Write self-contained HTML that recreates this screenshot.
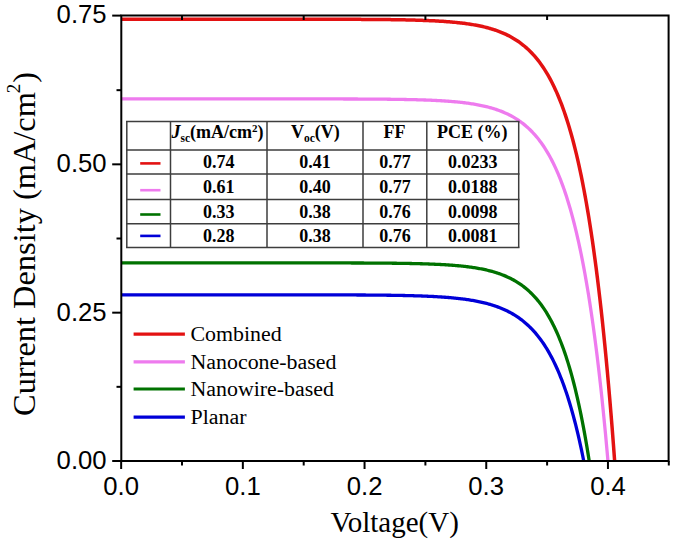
<!DOCTYPE html>
<html><head><meta charset="utf-8"><style>
html,body{margin:0;padding:0;background:#fff;}
body{width:675px;height:543px;overflow:hidden;}
svg{display:block;}
</style></head><body>
<svg width="675" height="543" viewBox="0 0 675 543">
<rect width="675" height="543" fill="#fff"/>
<defs><clipPath id="c"><rect x="121.2" y="15.5" width="547.5" height="445.5"/></clipPath></defs>
<g clip-path="url(#c)" fill="none" stroke-linejoin="round">
<path d="M121.15,19.21 L122.38,19.21 L123.62,19.21 L124.85,19.21 L126.08,19.21 L127.32,19.21 L128.55,19.21 L129.79,19.21 L131.02,19.21 L132.25,19.21 L133.49,19.21 L134.72,19.21 L135.95,19.21 L137.19,19.21 L138.42,19.21 L139.66,19.21 L140.89,19.21 L142.12,19.21 L143.36,19.21 L144.59,19.21 L145.82,19.21 L147.06,19.21 L148.29,19.21 L149.53,19.21 L150.76,19.21 L151.99,19.21 L153.23,19.21 L154.46,19.21 L155.69,19.21 L156.93,19.21 L158.16,19.21 L159.40,19.21 L160.63,19.21 L161.86,19.21 L163.10,19.21 L164.33,19.21 L165.56,19.21 L166.80,19.21 L168.03,19.21 L169.27,19.21 L170.50,19.21 L171.73,19.21 L172.97,19.21 L174.20,19.21 L175.43,19.21 L176.67,19.21 L177.90,19.21 L179.14,19.21 L180.37,19.21 L181.60,19.21 L182.84,19.21 L184.07,19.21 L185.30,19.21 L186.54,19.21 L187.77,19.21 L189.01,19.21 L190.24,19.21 L191.47,19.21 L192.71,19.21 L193.94,19.21 L195.17,19.21 L196.41,19.21 L197.64,19.21 L198.88,19.21 L200.11,19.21 L201.34,19.21 L202.58,19.21 L203.81,19.21 L205.04,19.21 L206.28,19.21 L207.51,19.21 L208.75,19.21 L209.98,19.21 L211.21,19.21 L212.45,19.21 L213.68,19.21 L214.91,19.21 L216.15,19.21 L217.38,19.21 L218.61,19.21 L219.85,19.21 L221.08,19.21 L222.32,19.21 L223.55,19.21 L224.78,19.21 L226.02,19.21 L227.25,19.21 L228.48,19.21 L229.72,19.21 L230.95,19.21 L232.19,19.21 L233.42,19.21 L234.65,19.21 L235.89,19.21 L237.12,19.21 L238.35,19.21 L239.59,19.21 L240.82,19.21 L242.06,19.21 L243.29,19.21 L244.52,19.21 L245.76,19.21 L246.99,19.21 L248.22,19.21 L249.46,19.21 L250.69,19.21 L251.93,19.21 L253.16,19.21 L254.39,19.21 L255.63,19.21 L256.86,19.21 L258.09,19.21 L259.33,19.21 L260.56,19.21 L261.80,19.21 L263.03,19.21 L264.26,19.21 L265.50,19.22 L266.73,19.22 L267.96,19.22 L269.20,19.22 L270.43,19.22 L271.67,19.22 L272.90,19.22 L274.13,19.22 L275.37,19.22 L276.60,19.22 L277.83,19.22 L279.07,19.22 L280.30,19.22 L281.54,19.22 L282.77,19.22 L284.00,19.22 L285.24,19.22 L286.47,19.22 L287.70,19.22 L288.94,19.22 L290.17,19.23 L291.41,19.23 L292.64,19.23 L293.87,19.23 L295.11,19.23 L296.34,19.23 L297.57,19.23 L298.81,19.23 L300.04,19.23 L301.28,19.23 L302.51,19.23 L303.74,19.24 L304.98,19.24 L306.21,19.24 L307.44,19.24 L308.68,19.24 L309.91,19.24 L311.14,19.24 L312.38,19.24 L313.61,19.25 L314.85,19.25 L316.08,19.25 L317.31,19.25 L318.55,19.25 L319.78,19.25 L321.01,19.26 L322.25,19.26 L323.48,19.26 L324.72,19.26 L325.95,19.26 L327.18,19.27 L328.42,19.27 L329.65,19.27 L330.88,19.27 L332.12,19.28 L333.35,19.28 L334.59,19.28 L335.82,19.28 L337.05,19.29 L338.29,19.29 L339.52,19.29 L340.75,19.30 L341.99,19.30 L343.22,19.30 L344.46,19.31 L345.69,19.31 L346.92,19.32 L348.16,19.32 L349.39,19.32 L350.62,19.33 L351.86,19.33 L353.09,19.34 L354.33,19.34 L355.56,19.35 L356.79,19.36 L358.03,19.36 L359.26,19.37 L360.49,19.37 L361.73,19.38 L362.96,19.39 L364.20,19.39 L365.43,19.40 L366.66,19.41 L367.90,19.42 L369.13,19.42 L370.36,19.43 L371.60,19.44 L372.83,19.45 L374.07,19.46 L375.30,19.47 L376.53,19.48 L377.77,19.49 L379.00,19.50 L380.23,19.51 L381.47,19.53 L382.70,19.54 L383.94,19.55 L385.17,19.57 L386.40,19.58 L387.64,19.59 L388.87,19.61 L390.10,19.62 L391.34,19.64 L392.57,19.66 L393.81,19.68 L395.04,19.69 L396.27,19.71 L397.51,19.73 L398.74,19.75 L399.97,19.77 L401.21,19.80 L402.44,19.82 L403.68,19.84 L404.91,19.87 L406.14,19.89 L407.38,19.92 L408.61,19.95 L409.84,19.98 L411.08,20.01 L412.31,20.04 L413.54,20.07 L414.78,20.11 L416.01,20.14 L417.25,20.18 L418.48,20.21 L419.71,20.25 L420.95,20.29 L422.18,20.34 L423.41,20.38 L424.65,20.43 L425.88,20.47 L427.12,20.52 L428.35,20.58 L429.58,20.63 L430.82,20.68 L432.05,20.74 L433.28,20.80 L434.52,20.86 L435.75,20.93 L436.99,21.00 L438.22,21.07 L439.45,21.14 L440.69,21.21 L441.92,21.29 L443.15,21.37 L444.39,21.46 L445.62,21.55 L446.86,21.64 L448.09,21.73 L449.32,21.83 L450.56,21.93 L451.79,22.04 L453.02,22.15 L454.26,22.26 L455.49,22.38 L456.73,22.51 L457.96,22.64 L459.19,22.77 L460.43,22.91 L461.66,23.05 L462.89,23.20 L464.13,23.36 L465.36,23.52 L466.60,23.69 L467.83,23.86 L469.06,24.05 L470.30,24.23 L471.53,24.43 L472.76,24.63 L474.00,24.85 L475.23,25.07 L476.47,25.29 L477.70,25.53 L478.93,25.78 L480.17,26.03 L481.40,26.30 L482.63,26.58 L483.87,26.87 L485.10,27.16 L486.34,27.47 L487.57,27.80 L488.80,28.13 L490.04,28.48 L491.27,28.84 L492.50,29.22 L493.74,29.61 L494.97,30.01 L496.21,30.43 L497.44,30.87 L498.67,31.33 L499.91,31.80 L501.14,32.29 L502.37,32.80 L503.61,33.33 L504.84,33.88 L506.07,34.45 L507.31,35.05 L508.54,35.67 L509.78,36.31 L511.01,36.98 L512.24,37.67 L513.48,38.39 L514.71,39.14 L515.94,39.91 L517.18,40.72 L518.41,41.56 L519.65,42.43 L520.88,43.34 L522.11,44.28 L523.35,45.26 L524.58,46.27 L525.81,47.33 L527.05,48.42 L528.28,49.56 L529.52,50.75 L530.75,51.98 L531.98,53.25 L533.22,54.58 L534.45,55.96 L535.68,57.40 L536.92,58.88 L538.15,60.43 L539.39,62.04 L540.62,63.71 L541.85,65.44 L543.09,67.25 L544.32,69.12 L545.55,71.07 L546.79,73.09 L548.02,75.19 L549.26,77.37 L550.49,79.64 L551.72,82.00 L552.96,84.45 L554.19,86.99 L555.42,89.64 L556.66,92.38 L557.89,95.24 L559.13,98.20 L560.36,101.28 L561.59,104.48 L562.83,107.81 L564.06,111.26 L565.29,114.85 L566.53,118.58 L567.76,122.46 L569.00,126.48 L570.23,130.67 L571.46,135.01 L572.70,139.53 L573.93,144.22 L575.16,149.10 L576.40,154.16 L577.63,159.42 L578.87,164.89 L580.10,170.57 L581.33,176.48 L582.57,182.61 L583.80,188.98 L585.03,195.60 L586.27,202.48 L587.50,209.63 L588.74,217.05 L589.97,224.77 L591.20,232.78 L592.44,241.11 L593.67,249.77 L594.90,258.76 L596.14,268.10 L597.37,277.80 L598.60,287.89 L599.84,298.37 L601.07,309.25 L602.31,320.56 L603.54,332.32 L604.77,344.53 L606.01,357.21 L607.24,370.39 L608.47,384.09 L609.71,398.32 L610.94,413.10 L612.18,428.46 L613.41,444.42 L614.64,461.00 L615.86,477.99 L617.08,495.63 L618.29,513.96 L619.51,532.98 L620.73,552.74" stroke="#e31212" stroke-width="3.50"/>
<path d="M121.15,98.89 L122.37,98.89 L123.58,98.89 L124.80,98.89 L126.02,98.89 L127.23,98.89 L128.45,98.89 L129.67,98.89 L130.89,98.89 L132.10,98.89 L133.32,98.89 L134.54,98.89 L135.75,98.89 L136.97,98.89 L138.19,98.89 L139.41,98.89 L140.62,98.89 L141.84,98.89 L143.06,98.89 L144.27,98.89 L145.49,98.89 L146.71,98.89 L147.92,98.89 L149.14,98.89 L150.36,98.89 L151.58,98.89 L152.79,98.89 L154.01,98.89 L155.23,98.89 L156.44,98.89 L157.66,98.89 L158.88,98.89 L160.09,98.89 L161.31,98.89 L162.53,98.89 L163.75,98.89 L164.96,98.89 L166.18,98.89 L167.40,98.89 L168.61,98.89 L169.83,98.89 L171.05,98.89 L172.26,98.89 L173.48,98.89 L174.70,98.89 L175.92,98.89 L177.13,98.89 L178.35,98.89 L179.57,98.89 L180.78,98.89 L182.00,98.89 L183.22,98.89 L184.43,98.89 L185.65,98.89 L186.87,98.89 L188.09,98.89 L189.30,98.89 L190.52,98.89 L191.74,98.89 L192.95,98.89 L194.17,98.89 L195.39,98.89 L196.60,98.89 L197.82,98.89 L199.04,98.89 L200.25,98.89 L201.47,98.89 L202.69,98.89 L203.91,98.89 L205.12,98.89 L206.34,98.89 L207.56,98.89 L208.77,98.89 L209.99,98.89 L211.21,98.89 L212.43,98.89 L213.64,98.89 L214.86,98.89 L216.08,98.89 L217.29,98.89 L218.51,98.89 L219.73,98.89 L220.94,98.89 L222.16,98.89 L223.38,98.89 L224.60,98.89 L225.81,98.89 L227.03,98.89 L228.25,98.89 L229.46,98.89 L230.68,98.89 L231.90,98.89 L233.11,98.89 L234.33,98.89 L235.55,98.89 L236.76,98.89 L237.98,98.89 L239.20,98.89 L240.42,98.89 L241.63,98.89 L242.85,98.89 L244.07,98.89 L245.28,98.89 L246.50,98.89 L247.72,98.89 L248.94,98.89 L250.15,98.90 L251.37,98.90 L252.59,98.90 L253.80,98.90 L255.02,98.90 L256.24,98.90 L257.45,98.90 L258.67,98.90 L259.89,98.90 L261.11,98.90 L262.32,98.90 L263.54,98.90 L264.76,98.90 L265.97,98.90 L267.19,98.90 L268.41,98.90 L269.62,98.90 L270.84,98.90 L272.06,98.90 L273.27,98.90 L274.49,98.90 L275.71,98.90 L276.93,98.90 L278.14,98.90 L279.36,98.90 L280.58,98.90 L281.79,98.90 L283.01,98.90 L284.23,98.90 L285.45,98.90 L286.66,98.90 L287.88,98.91 L289.10,98.91 L290.31,98.91 L291.53,98.91 L292.75,98.91 L293.96,98.91 L295.18,98.91 L296.40,98.91 L297.62,98.91 L298.83,98.91 L300.05,98.91 L301.27,98.91 L302.48,98.91 L303.70,98.91 L304.92,98.92 L306.13,98.92 L307.35,98.92 L308.57,98.92 L309.78,98.92 L311.00,98.92 L312.22,98.92 L313.44,98.92 L314.65,98.92 L315.87,98.93 L317.09,98.93 L318.30,98.93 L319.52,98.93 L320.74,98.93 L321.96,98.93 L323.17,98.94 L324.39,98.94 L325.61,98.94 L326.82,98.94 L328.04,98.94 L329.26,98.94 L330.47,98.95 L331.69,98.95 L332.91,98.95 L334.12,98.95 L335.34,98.96 L336.56,98.96 L337.78,98.96 L338.99,98.96 L340.21,98.97 L341.43,98.97 L342.64,98.97 L343.86,98.98 L345.08,98.98 L346.30,98.98 L347.51,98.99 L348.73,98.99 L349.95,98.99 L351.16,99.00 L352.38,99.00 L353.60,99.01 L354.81,99.01 L356.03,99.02 L357.25,99.02 L358.47,99.03 L359.68,99.03 L360.90,99.04 L362.12,99.04 L363.33,99.05 L364.55,99.06 L365.77,99.06 L366.98,99.07 L368.20,99.08 L369.42,99.08 L370.63,99.09 L371.85,99.10 L373.07,99.11 L374.29,99.12 L375.50,99.12 L376.72,99.13 L377.94,99.14 L379.15,99.15 L380.37,99.16 L381.59,99.17 L382.80,99.18 L384.02,99.20 L385.24,99.21 L386.46,99.22 L387.67,99.23 L388.89,99.25 L390.11,99.26 L391.32,99.28 L392.54,99.29 L393.76,99.31 L394.98,99.32 L396.19,99.34 L397.41,99.36 L398.63,99.38 L399.84,99.39 L401.06,99.41 L402.28,99.44 L403.49,99.46 L404.71,99.48 L405.93,99.50 L407.14,99.53 L408.36,99.55 L409.58,99.58 L410.80,99.60 L412.01,99.63 L413.23,99.66 L414.45,99.69 L415.66,99.72 L416.88,99.75 L418.10,99.79 L419.32,99.82 L420.53,99.86 L421.75,99.90 L422.97,99.94 L424.18,99.98 L425.40,100.02 L426.62,100.07 L427.83,100.11 L429.05,100.16 L430.27,100.21 L431.49,100.26 L432.70,100.31 L433.92,100.37 L435.14,100.43 L436.35,100.49 L437.57,100.55 L438.79,100.62 L440.00,100.68 L441.22,100.75 L442.44,100.83 L443.65,100.90 L444.87,100.98 L446.09,101.06 L447.31,101.15 L448.52,101.24 L449.74,101.33 L450.96,101.43 L452.17,101.53 L453.39,101.63 L454.61,101.74 L455.83,101.85 L457.04,101.96 L458.26,102.08 L459.48,102.21 L460.69,102.34 L461.91,102.47 L463.13,102.62 L464.34,102.76 L465.56,102.91 L466.78,103.07 L468.00,103.23 L469.21,103.41 L470.43,103.58 L471.65,103.77 L472.86,103.96 L474.08,104.16 L475.30,104.36 L476.51,104.58 L477.73,104.80 L478.95,105.03 L480.16,105.27 L481.38,105.52 L482.60,105.78 L483.82,106.05 L485.03,106.33 L486.25,106.63 L487.47,106.93 L488.68,107.24 L489.90,107.57 L491.12,107.91 L492.34,108.27 L493.55,108.63 L494.77,109.02 L495.99,109.41 L497.20,109.83 L498.42,110.25 L499.64,110.70 L500.85,111.16 L502.07,111.64 L503.29,112.14 L504.50,112.66 L505.72,113.20 L506.94,113.76 L508.16,114.35 L509.37,114.95 L510.59,115.58 L511.81,116.24 L513.02,116.92 L514.24,117.63 L515.46,118.36 L516.68,119.12 L517.89,119.92 L519.11,120.74 L520.33,121.60 L521.54,122.49 L522.76,123.41 L523.98,124.38 L525.19,125.38 L526.41,126.41 L527.63,127.49 L528.85,128.61 L530.06,129.78 L531.28,130.99 L532.50,132.25 L533.71,133.56 L534.93,134.92 L536.15,136.33 L537.36,137.80 L538.58,139.32 L539.80,140.91 L541.01,142.56 L542.23,144.27 L543.45,146.05 L544.67,147.90 L545.88,149.82 L547.10,151.82 L548.32,153.89 L549.53,156.05 L550.75,158.29 L551.97,160.62 L553.18,163.04 L554.40,165.55 L555.62,168.17 L556.84,170.88 L558.05,173.71 L559.27,176.64 L560.49,179.69 L561.70,182.86 L562.92,186.15 L564.14,189.57 L565.36,193.13 L566.57,196.82 L567.79,200.66 L569.01,204.65 L570.22,208.80 L571.44,213.11 L572.66,217.59 L573.87,222.24 L575.09,227.08 L576.31,232.10 L577.52,237.33 L578.74,242.75 L579.96,248.40 L581.18,254.26 L582.39,260.35 L583.61,266.68 L584.83,273.26 L586.04,280.10 L587.26,287.20 L588.48,294.59 L589.70,302.26 L590.91,310.23 L592.13,318.52 L593.35,327.13 L594.56,336.08 L595.78,345.38 L597.00,355.05 L598.21,365.09 L599.43,375.53 L600.65,386.38 L601.87,397.65 L603.08,409.36 L604.30,421.54 L605.52,434.19 L606.73,447.34 L607.95,461.00 L609.17,475.20 L610.38,489.95 L611.60,505.29 L612.82,521.22 L614.04,537.78" stroke="#ee7bee" stroke-width="3.30"/>
<path d="M121.15,262.89 L122.32,262.89 L123.49,262.89 L124.66,262.89 L125.83,262.89 L127.00,262.89 L128.17,262.89 L129.34,262.89 L130.51,262.89 L131.68,262.89 L132.85,262.89 L134.02,262.89 L135.19,262.89 L136.36,262.89 L137.53,262.89 L138.70,262.89 L139.87,262.89 L141.04,262.89 L142.21,262.89 L143.38,262.89 L144.55,262.89 L145.72,262.89 L146.89,262.89 L148.06,262.89 L149.23,262.89 L150.40,262.89 L151.57,262.89 L152.74,262.89 L153.91,262.89 L155.08,262.89 L156.25,262.89 L157.42,262.89 L158.59,262.89 L159.76,262.89 L160.93,262.89 L162.11,262.89 L163.28,262.89 L164.45,262.89 L165.62,262.89 L166.79,262.89 L167.96,262.89 L169.13,262.89 L170.30,262.89 L171.47,262.89 L172.64,262.89 L173.81,262.89 L174.98,262.89 L176.15,262.89 L177.32,262.89 L178.49,262.89 L179.66,262.89 L180.83,262.89 L182.00,262.89 L183.17,262.89 L184.34,262.89 L185.51,262.89 L186.68,262.89 L187.85,262.89 L189.02,262.89 L190.19,262.89 L191.36,262.89 L192.53,262.89 L193.70,262.89 L194.87,262.89 L196.04,262.89 L197.21,262.89 L198.38,262.89 L199.55,262.89 L200.72,262.89 L201.89,262.89 L203.06,262.89 L204.23,262.89 L205.40,262.89 L206.57,262.89 L207.74,262.89 L208.91,262.89 L210.08,262.89 L211.25,262.89 L212.42,262.89 L213.59,262.89 L214.76,262.89 L215.93,262.89 L217.10,262.89 L218.27,262.89 L219.44,262.89 L220.61,262.89 L221.78,262.89 L222.95,262.89 L224.12,262.89 L225.29,262.89 L226.46,262.89 L227.63,262.89 L228.80,262.89 L229.97,262.89 L231.14,262.89 L232.31,262.89 L233.48,262.89 L234.65,262.89 L235.82,262.89 L236.99,262.89 L238.16,262.89 L239.33,262.89 L240.50,262.89 L241.67,262.89 L242.85,262.89 L244.02,262.89 L245.19,262.89 L246.36,262.89 L247.53,262.89 L248.70,262.89 L249.87,262.89 L251.04,262.89 L252.21,262.89 L253.38,262.89 L254.55,262.89 L255.72,262.89 L256.89,262.89 L258.06,262.89 L259.23,262.89 L260.40,262.89 L261.57,262.89 L262.74,262.89 L263.91,262.89 L265.08,262.89 L266.25,262.89 L267.42,262.89 L268.59,262.89 L269.76,262.89 L270.93,262.89 L272.10,262.89 L273.27,262.89 L274.44,262.89 L275.61,262.89 L276.78,262.90 L277.95,262.90 L279.12,262.90 L280.29,262.90 L281.46,262.90 L282.63,262.90 L283.80,262.90 L284.97,262.90 L286.14,262.90 L287.31,262.90 L288.48,262.90 L289.65,262.90 L290.82,262.90 L291.99,262.90 L293.16,262.90 L294.33,262.90 L295.50,262.90 L296.67,262.90 L297.84,262.90 L299.01,262.90 L300.18,262.90 L301.35,262.90 L302.52,262.91 L303.69,262.91 L304.86,262.91 L306.03,262.91 L307.20,262.91 L308.37,262.91 L309.54,262.91 L310.71,262.91 L311.88,262.91 L313.05,262.91 L314.22,262.91 L315.39,262.92 L316.56,262.92 L317.73,262.92 L318.90,262.92 L320.07,262.92 L321.24,262.92 L322.42,262.92 L323.59,262.92 L324.76,262.93 L325.93,262.93 L327.10,262.93 L328.27,262.93 L329.44,262.93 L330.61,262.93 L331.78,262.93 L332.95,262.94 L334.12,262.94 L335.29,262.94 L336.46,262.94 L337.63,262.94 L338.80,262.95 L339.97,262.95 L341.14,262.95 L342.31,262.95 L343.48,262.96 L344.65,262.96 L345.82,262.96 L346.99,262.97 L348.16,262.97 L349.33,262.97 L350.50,262.97 L351.67,262.98 L352.84,262.98 L354.01,262.99 L355.18,262.99 L356.35,262.99 L357.52,263.00 L358.69,263.00 L359.86,263.01 L361.03,263.01 L362.20,263.02 L363.37,263.02 L364.54,263.03 L365.71,263.03 L366.88,263.04 L368.05,263.04 L369.22,263.05 L370.39,263.05 L371.56,263.06 L372.73,263.07 L373.90,263.07 L375.07,263.08 L376.24,263.09 L377.41,263.10 L378.58,263.10 L379.75,263.11 L380.92,263.12 L382.09,263.13 L383.26,263.14 L384.43,263.15 L385.60,263.16 L386.77,263.17 L387.94,263.18 L389.11,263.19 L390.28,263.20 L391.45,263.22 L392.62,263.23 L393.79,263.24 L394.96,263.26 L396.13,263.27 L397.30,263.29 L398.47,263.30 L399.64,263.32 L400.81,263.33 L401.98,263.35 L403.16,263.37 L404.33,263.39 L405.50,263.41 L406.67,263.43 L407.84,263.45 L409.01,263.47 L410.18,263.49 L411.35,263.52 L412.52,263.54 L413.69,263.56 L414.86,263.59 L416.03,263.62 L417.20,263.65 L418.37,263.68 L419.54,263.71 L420.71,263.74 L421.88,263.77 L423.05,263.80 L424.22,263.84 L425.39,263.88 L426.56,263.91 L427.73,263.95 L428.90,264.00 L430.07,264.04 L431.24,264.08 L432.41,264.13 L433.58,264.18 L434.75,264.23 L435.92,264.28 L437.09,264.33 L438.26,264.39 L439.43,264.45 L440.60,264.51 L441.77,264.57 L442.94,264.63 L444.11,264.70 L445.28,264.77 L446.45,264.84 L447.62,264.92 L448.79,265.00 L449.96,265.08 L451.13,265.16 L452.30,265.25 L453.47,265.34 L454.64,265.44 L455.81,265.53 L456.98,265.64 L458.15,265.74 L459.32,265.85 L460.49,265.97 L461.66,266.09 L462.83,266.21 L464.00,266.34 L465.17,266.47 L466.34,266.61 L467.51,266.75 L468.68,266.90 L469.85,267.06 L471.02,267.22 L472.19,267.38 L473.36,267.56 L474.53,267.74 L475.70,267.92 L476.87,268.12 L478.04,268.32 L479.21,268.53 L480.38,268.75 L481.55,268.97 L482.72,269.21 L483.90,269.45 L485.07,269.71 L486.24,269.97 L487.41,270.24 L488.58,270.53 L489.75,270.82 L490.92,271.13 L492.09,271.45 L493.26,271.78 L494.43,272.12 L495.60,272.47 L496.77,272.84 L497.94,273.23 L499.11,273.63 L500.28,274.04 L501.45,274.47 L502.62,274.92 L503.79,275.38 L504.96,275.87 L506.13,276.37 L507.30,276.89 L508.47,277.43 L509.64,277.99 L510.81,278.57 L511.98,279.18 L513.15,279.80 L514.32,280.46 L515.49,281.13 L516.66,281.84 L517.83,282.57 L519.00,283.33 L520.17,284.12 L521.34,284.94 L522.51,285.79 L523.68,286.67 L524.85,287.59 L526.02,288.54 L527.19,289.53 L528.36,290.56 L529.53,291.63 L530.70,292.74 L531.87,293.89 L533.04,295.08 L534.21,296.32 L535.38,297.61 L536.55,298.95 L537.72,300.35 L538.89,301.79 L540.06,303.29 L541.23,304.85 L542.40,306.47 L543.57,308.15 L544.74,309.90 L545.91,311.71 L547.08,313.59 L548.25,315.55 L549.42,317.58 L550.59,319.69 L551.76,321.88 L552.93,324.16 L554.10,326.52 L555.27,328.98 L556.44,331.53 L557.61,334.18 L558.78,336.93 L559.95,339.78 L561.12,342.75 L562.29,345.83 L563.46,349.03 L564.64,352.36 L565.81,355.81 L566.98,359.39 L568.15,363.12 L569.32,366.98 L570.49,371.00 L571.66,375.17 L572.83,379.50 L574.00,384.00 L575.17,388.67 L576.34,393.53 L577.51,398.57 L578.68,403.80 L579.85,409.24 L581.02,414.88 L582.19,420.75 L583.36,426.84 L584.53,433.16 L585.70,439.73 L586.87,446.55 L588.04,453.64 L589.21,461.00 L590.43,468.96 L591.64,477.23 L592.86,485.84 L594.08,494.79 L595.29,504.10" stroke="#007200" stroke-width="3.30"/>
<path d="M121.15,294.81 L122.31,294.81 L123.46,294.81 L124.62,294.81 L125.78,294.81 L126.93,294.81 L128.09,294.81 L129.25,294.81 L130.40,294.81 L131.56,294.81 L132.71,294.81 L133.87,294.81 L135.03,294.81 L136.18,294.81 L137.34,294.81 L138.50,294.81 L139.65,294.81 L140.81,294.81 L141.97,294.81 L143.12,294.81 L144.28,294.81 L145.44,294.81 L146.59,294.81 L147.75,294.81 L148.90,294.81 L150.06,294.81 L151.22,294.81 L152.37,294.81 L153.53,294.81 L154.69,294.81 L155.84,294.81 L157.00,294.81 L158.16,294.81 L159.31,294.81 L160.47,294.81 L161.63,294.81 L162.78,294.81 L163.94,294.81 L165.10,294.81 L166.25,294.81 L167.41,294.81 L168.56,294.81 L169.72,294.81 L170.88,294.81 L172.03,294.81 L173.19,294.81 L174.35,294.81 L175.50,294.81 L176.66,294.81 L177.82,294.81 L178.97,294.81 L180.13,294.81 L181.29,294.81 L182.44,294.81 L183.60,294.81 L184.75,294.81 L185.91,294.81 L187.07,294.81 L188.22,294.81 L189.38,294.81 L190.54,294.81 L191.69,294.81 L192.85,294.81 L194.01,294.81 L195.16,294.81 L196.32,294.81 L197.48,294.81 L198.63,294.81 L199.79,294.81 L200.95,294.81 L202.10,294.81 L203.26,294.81 L204.41,294.81 L205.57,294.81 L206.73,294.81 L207.88,294.81 L209.04,294.81 L210.20,294.81 L211.35,294.81 L212.51,294.81 L213.67,294.81 L214.82,294.81 L215.98,294.81 L217.14,294.81 L218.29,294.81 L219.45,294.81 L220.61,294.81 L221.76,294.81 L222.92,294.81 L224.07,294.81 L225.23,294.81 L226.39,294.81 L227.54,294.81 L228.70,294.81 L229.86,294.81 L231.01,294.81 L232.17,294.81 L233.33,294.81 L234.48,294.81 L235.64,294.81 L236.80,294.81 L237.95,294.81 L239.11,294.81 L240.26,294.81 L241.42,294.81 L242.58,294.81 L243.73,294.81 L244.89,294.81 L246.05,294.81 L247.20,294.81 L248.36,294.81 L249.52,294.81 L250.67,294.81 L251.83,294.81 L252.99,294.82 L254.14,294.82 L255.30,294.82 L256.46,294.82 L257.61,294.82 L258.77,294.82 L259.92,294.82 L261.08,294.82 L262.24,294.82 L263.39,294.82 L264.55,294.82 L265.71,294.82 L266.86,294.82 L268.02,294.82 L269.18,294.82 L270.33,294.82 L271.49,294.82 L272.65,294.82 L273.80,294.82 L274.96,294.82 L276.11,294.82 L277.27,294.82 L278.43,294.82 L279.58,294.82 L280.74,294.82 L281.90,294.83 L283.05,294.83 L284.21,294.83 L285.37,294.83 L286.52,294.83 L287.68,294.83 L288.84,294.83 L289.99,294.83 L291.15,294.83 L292.31,294.83 L293.46,294.83 L294.62,294.83 L295.77,294.83 L296.93,294.84 L298.09,294.84 L299.24,294.84 L300.40,294.84 L301.56,294.84 L302.71,294.84 L303.87,294.84 L305.03,294.84 L306.18,294.84 L307.34,294.85 L308.50,294.85 L309.65,294.85 L310.81,294.85 L311.96,294.85 L313.12,294.85 L314.28,294.85 L315.43,294.86 L316.59,294.86 L317.75,294.86 L318.90,294.86 L320.06,294.86 L321.22,294.86 L322.37,294.87 L323.53,294.87 L324.69,294.87 L325.84,294.87 L327.00,294.88 L328.16,294.88 L329.31,294.88 L330.47,294.88 L331.62,294.89 L332.78,294.89 L333.94,294.89 L335.09,294.89 L336.25,294.90 L337.41,294.90 L338.56,294.90 L339.72,294.91 L340.88,294.91 L342.03,294.91 L343.19,294.92 L344.35,294.92 L345.50,294.93 L346.66,294.93 L347.82,294.93 L348.97,294.94 L350.13,294.94 L351.28,294.95 L352.44,294.95 L353.60,294.96 L354.75,294.96 L355.91,294.97 L357.07,294.98 L358.22,294.98 L359.38,294.99 L360.54,294.99 L361.69,295.00 L362.85,295.01 L364.01,295.02 L365.16,295.02 L366.32,295.03 L367.47,295.04 L368.63,295.05 L369.79,295.06 L370.94,295.06 L372.10,295.07 L373.26,295.08 L374.41,295.09 L375.57,295.10 L376.73,295.11 L377.88,295.12 L379.04,295.14 L380.20,295.15 L381.35,295.16 L382.51,295.17 L383.67,295.19 L384.82,295.20 L385.98,295.21 L387.13,295.23 L388.29,295.24 L389.45,295.26 L390.60,295.27 L391.76,295.29 L392.92,295.31 L394.07,295.33 L395.23,295.34 L396.39,295.36 L397.54,295.38 L398.70,295.40 L399.86,295.43 L401.01,295.45 L402.17,295.47 L403.32,295.49 L404.48,295.52 L405.64,295.54 L406.79,295.57 L407.95,295.60 L409.11,295.63 L410.26,295.66 L411.42,295.69 L412.58,295.72 L413.73,295.75 L414.89,295.78 L416.05,295.82 L417.20,295.85 L418.36,295.89 L419.52,295.93 L420.67,295.97 L421.83,296.01 L422.98,296.06 L424.14,296.10 L425.30,296.15 L426.45,296.19 L427.61,296.24 L428.77,296.30 L429.92,296.35 L431.08,296.40 L432.24,296.46 L433.39,296.52 L434.55,296.58 L435.71,296.65 L436.86,296.71 L438.02,296.78 L439.17,296.85 L440.33,296.92 L441.49,297.00 L442.64,297.08 L443.80,297.16 L444.96,297.24 L446.11,297.33 L447.27,297.42 L448.43,297.51 L449.58,297.61 L450.74,297.71 L451.90,297.82 L453.05,297.92 L454.21,298.03 L455.37,298.15 L456.52,298.27 L457.68,298.39 L458.83,298.52 L459.99,298.66 L461.15,298.79 L462.30,298.94 L463.46,299.08 L464.62,299.24 L465.77,299.40 L466.93,299.56 L468.09,299.73 L469.24,299.91 L470.40,300.09 L471.56,300.28 L472.71,300.47 L473.87,300.68 L475.03,300.89 L476.18,301.11 L477.34,301.33 L478.49,301.56 L479.65,301.81 L480.81,302.06 L481.96,302.32 L483.12,302.59 L484.28,302.86 L485.43,303.15 L486.59,303.45 L487.75,303.76 L488.90,304.08 L490.06,304.41 L491.22,304.76 L492.37,305.11 L493.53,305.48 L494.68,305.87 L495.84,306.26 L497.00,306.67 L498.15,307.10 L499.31,307.54 L500.47,307.99 L501.62,308.47 L502.78,308.96 L503.94,309.46 L505.09,309.99 L506.25,310.53 L507.41,311.09 L508.56,311.68 L509.72,312.28 L510.88,312.91 L512.03,313.56 L513.19,314.23 L514.34,314.92 L515.50,315.64 L516.66,316.39 L517.81,317.16 L518.97,317.96 L520.13,318.79 L521.28,319.65 L522.44,320.54 L523.60,321.46 L524.75,322.42 L525.91,323.41 L527.07,324.43 L528.22,325.49 L529.38,326.59 L530.53,327.73 L531.69,328.91 L532.85,330.13 L534.00,331.40 L535.16,332.71 L536.32,334.07 L537.47,335.47 L538.63,336.93 L539.79,338.44 L540.94,340.00 L542.10,341.62 L543.26,343.30 L544.41,345.03 L545.57,346.83 L546.73,348.70 L547.88,350.63 L549.04,352.63 L550.19,354.70 L551.35,356.84 L552.51,359.07 L553.66,361.37 L554.82,363.75 L555.98,366.22 L557.13,368.78 L558.29,371.43 L559.45,374.17 L560.60,377.02 L561.76,379.96 L562.92,383.01 L564.07,386.17 L565.23,389.44 L566.38,392.83 L567.54,396.34 L568.70,399.98 L569.85,403.75 L571.01,407.65 L572.17,411.69 L573.32,415.88 L574.48,420.22 L575.64,424.71 L576.79,429.36 L577.95,434.18 L579.11,439.18 L580.26,444.35 L581.42,449.70 L582.58,455.25 L583.73,461.00 L584.95,467.27 L586.17,473.78 L587.38,480.53 L588.60,487.54 L589.82,494.81" stroke="#0000d8" stroke-width="3.30"/>
</g>
<g stroke="#000" stroke-width="2" fill="none" stroke-linecap="butt">
<path d="M121.3,15.6 H668.6 V461.0 H121.3 Z"/>
<path d="M112.2,461.00 H121.3"/>
<path d="M112.2,312.67 H121.3"/>
<path d="M112.2,164.33 H121.3"/>
<path d="M112.2,15.60 H121.3"/>
<path d="M116.5,386.83 H121.3"/>
<path d="M116.5,238.50 H121.3"/>
<path d="M116.5,90.17 H121.3"/>
<path d="M121.15,461.0 V469"/>
<path d="M242.85,461.0 V469"/>
<path d="M364.55,461.0 V469"/>
<path d="M486.25,461.0 V469"/>
<path d="M607.95,461.0 V469"/>
<path d="M182.00,461.0 V465.5"/>
<path d="M303.70,461.0 V465.5"/>
<path d="M425.40,461.0 V465.5"/>
<path d="M547.10,461.0 V465.5"/>
<path d="M668.80,461.0 V465.5"/>
<path d="M182.00,15.6 V20"/>
<path d="M303.70,15.6 V20"/>
<path d="M425.40,15.6 V20"/>
<path d="M547.10,15.6 V20"/>
</g>
<g font-family="Liberation Sans, sans-serif" font-size="25.7" fill="#000">
<text x="106.6" y="468.8" text-anchor="end">0.00</text>
<text x="106.6" y="320.5" text-anchor="end">0.25</text>
<text x="106.6" y="172.1" text-anchor="end">0.50</text>
<text x="106.6" y="23.4" text-anchor="end">0.75</text>
<text x="121.2" y="495.2" text-anchor="middle">0.0</text>
<text x="242.9" y="495.2" text-anchor="middle">0.1</text>
<text x="364.6" y="495.2" text-anchor="middle">0.2</text>
<text x="486.2" y="495.2" text-anchor="middle">0.3</text>
<text x="608.0" y="495.2" text-anchor="middle">0.4</text>
</g>
<text x="394.7" y="531.6" font-family="Liberation Serif, serif" font-size="29" text-anchor="middle">Voltage(V)</text>
<text transform="translate(35.2,243.9) rotate(-90)" font-family="Liberation Serif, serif" font-size="32.4" text-anchor="middle">Current Density (mA/cm<tspan font-size="19" dx="-1.2" dy="-15.6">2</tspan><tspan dx="1.2" dy="15.6">)</tspan></text>
<rect x="126.8" y="121.6" width="391.9" height="125.8" fill="#fff"/>
<g stroke="#3d3d3d" stroke-width="1.5" fill="none">
<path d="M126.0,121.60 H519.5"/>
<path d="M126.0,149.90 H519.5"/>
<path d="M126.0,174.10 H519.5"/>
<path d="M126.0,199.50 H519.5"/>
<path d="M126.0,223.80 H519.5"/>
<path d="M126.0,247.40 H519.5"/>
<path d="M126.80,121.6 V247.4"/>
<path d="M170.50,121.6 V247.4"/>
<path d="M267.00,121.6 V247.4"/>
<path d="M363.00,121.6 V247.4"/>
<path d="M426.80,121.6 V247.4"/>
<path d="M518.70,121.6 V247.4"/>
</g>
<path d="M140.2,163.4 H160.5" stroke="#e31212" stroke-width="2.6"/>
<path d="M140.2,190.2 H160.5" stroke="#ee7bee" stroke-width="2.6"/>
<path d="M140.2,214.5 H160.5" stroke="#007200" stroke-width="2.6"/>
<path d="M140.2,235.9 H160.5" stroke="#0000d8" stroke-width="2.6"/>
<g font-family="Liberation Serif, serif" font-weight="bold" font-size="18" fill="#000">
<text x="171.5" y="138.4"><tspan font-style="italic">J</tspan><tspan font-size="11.5" dy="4">sc</tspan><tspan dy="-4">(mA/cm</tspan><tspan font-size="11" dy="-6.5">2</tspan><tspan dy="6.5">)</tspan></text>
<text x="291" y="138.4">V<tspan font-size="11.5" dy="4">oc</tspan><tspan dy="-4">(V)</tspan></text>
<text x="394.5" y="138.4" text-anchor="middle">FF</text>
<text x="472.2" y="138.4" text-anchor="middle">PCE (%)</text>
<text x="218.8" y="168.0" text-anchor="middle">0.74</text>
<text x="315.0" y="168.0" text-anchor="middle">0.41</text>
<text x="394.9" y="168.0" text-anchor="middle">0.77</text>
<text x="472.8" y="168.0" text-anchor="middle">0.0233</text>
<text x="218.8" y="192.8" text-anchor="middle">0.61</text>
<text x="315.0" y="192.8" text-anchor="middle">0.40</text>
<text x="394.9" y="192.8" text-anchor="middle">0.77</text>
<text x="472.8" y="192.8" text-anchor="middle">0.0188</text>
<text x="218.8" y="217.7" text-anchor="middle">0.33</text>
<text x="315.0" y="217.7" text-anchor="middle">0.38</text>
<text x="394.9" y="217.7" text-anchor="middle">0.76</text>
<text x="472.8" y="217.7" text-anchor="middle">0.0098</text>
<text x="218.8" y="241.6" text-anchor="middle">0.28</text>
<text x="315.0" y="241.6" text-anchor="middle">0.38</text>
<text x="394.9" y="241.6" text-anchor="middle">0.76</text>
<text x="472.8" y="241.6" text-anchor="middle">0.0081</text>
</g>
<path d="M133.6,334.2 H184.9" stroke="#e31212" stroke-width="3.2"/>
<text x="190.5" y="341.4" font-family="Liberation Serif, serif" font-size="21.9">Combined</text>
<path d="M133.6,361.8 H184.9" stroke="#ee7bee" stroke-width="3.2"/>
<text x="190.5" y="369.0" font-family="Liberation Serif, serif" font-size="21.9">Nanocone-based</text>
<path d="M133.6,389.0 H184.9" stroke="#007200" stroke-width="3.2"/>
<text x="190.5" y="396.2" font-family="Liberation Serif, serif" font-size="21.9">Nanowire-based</text>
<path d="M133.6,417.1 H184.9" stroke="#0000d8" stroke-width="3.2"/>
<text x="190.5" y="424.3" font-family="Liberation Serif, serif" font-size="21.9">Planar</text>
</svg>
</body></html>
